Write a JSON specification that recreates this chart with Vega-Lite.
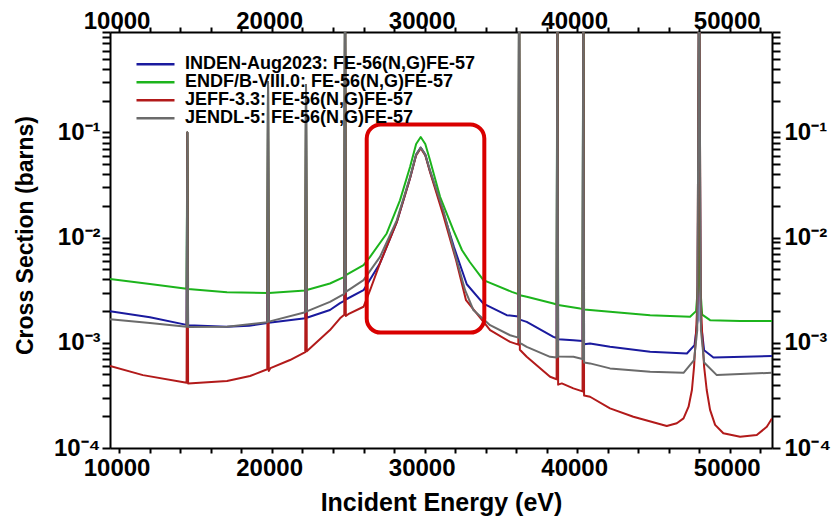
{
  "$schema": "https://vega.github.io/schema/vega-lite/v6.json",
  "width": 662,
  "height": 416,
  "autosize": {"type": "none"},
  "padding": {"left": 110, "top": 32, "right": 59, "bottom": 70},
  "background": "white",
  "config": {
    "view": {"stroke": null},
    "font": "Liberation Sans",
    "axis": {
      "labelFont": "Liberation Sans", "labelFontSize": 24, "labelFontWeight": "bold", "labelColor": "black",
      "titleFont": "Liberation Sans", "titleFontWeight": "bold", "titleColor": "black",
      "domainColor": "black", "domainWidth": 2, "tickColor": "black", "tickWidth": 2,
      "ticks": true, "grid": false, "labelFlush": false, "labelOverlap": false, "labelBound": false
    }
  },
  "datasets": {
    "xs": [
      {"s":"INDEN-Aug2023","E":7380,"v":0.00200},{"s":"INDEN-Aug2023","E":10000,"v":0.00175},{"s":"INDEN-Aug2023","E":12400,"v":0.00148},{"s":"INDEN-Aug2023","E":12450,"v":0.1},{"s":"INDEN-Aug2023","E":12500,"v":0.00147},{"s":"INDEN-Aug2023","E":15050,"v":0.00142},{"s":"INDEN-Aug2023","E":16500,"v":0.00145},{"s":"INDEN-Aug2023","E":17690,"v":0.00154},{"s":"INDEN-Aug2023","E":17740,"v":0.30},{"s":"INDEN-Aug2023","E":17790,"v":0.00155},{"s":"INDEN-Aug2023","E":20180,"v":0.00171},{"s":"INDEN-Aug2023","E":20230,"v":0.28},{"s":"INDEN-Aug2023","E":20280,"v":0.00173},{"s":"INDEN-Aug2023","E":21800,"v":0.00205},{"s":"INDEN-Aug2023","E":22460,"v":0.00238},{"s":"INDEN-Aug2023","E":22740,"v":0.00250},{"s":"INDEN-Aug2023","E":22790,"v":5},{"s":"INDEN-Aug2023","E":22840,"v":0.00258},{"s":"INDEN-Aug2023","E":24000,"v":0.00316},{"s":"INDEN-Aug2023","E":25080,"v":0.00571},{"s":"INDEN-Aug2023","E":26180,"v":0.0140},{"s":"INDEN-Aug2023","E":27050,"v":0.0366},{"s":"INDEN-Aug2023","E":27450,"v":0.0615},{"s":"INDEN-Aug2023","E":27750,"v":0.0718},{"s":"INDEN-Aug2023","E":28050,"v":0.0615},{"s":"INDEN-Aug2023","E":28360,"v":0.0428},{"s":"INDEN-Aug2023","E":29230,"v":0.0174},{"s":"INDEN-Aug2023","E":29930,"v":0.00811},{"s":"INDEN-Aug2023","E":30770,"v":0.00360},{"s":"INDEN-Aug2023","E":31860,"v":0.00236},{"s":"INDEN-Aug2023","E":33390,"v":0.00183},{"s":"INDEN-Aug2023","E":34150,"v":0.00178},{"s":"INDEN-Aug2023","E":34200,"v":5},{"s":"INDEN-Aug2023","E":34250,"v":0.00166},{"s":"INDEN-Aug2023","E":34700,"v":0.00158},{"s":"INDEN-Aug2023","E":36450,"v":0.00114},{"s":"INDEN-Aug2023","E":36660,"v":0.00111},{"s":"INDEN-Aug2023","E":36710,"v":5},{"s":"INDEN-Aug2023","E":36760,"v":0.00108},{"s":"INDEN-Aug2023","E":37760,"v":0.00106},{"s":"INDEN-Aug2023","E":38360,"v":0.00104},{"s":"INDEN-Aug2023","E":38410,"v":5},{"s":"INDEN-Aug2023","E":38460,"v":0.00097},{"s":"INDEN-Aug2023","E":38850,"v":0.000986},{"s":"INDEN-Aug2023","E":40160,"v":0.000916},{"s":"INDEN-Aug2023","E":42790,"v":0.000822},{"s":"INDEN-Aug2023","E":45200,"v":0.000792},{"s":"INDEN-Aug2023","E":45700,"v":0.00095},{"s":"INDEN-Aug2023","E":45900,"v":0.00164},{"s":"INDEN-Aug2023","E":46000,"v":5},{"s":"INDEN-Aug2023","E":46100,"v":0.00164},{"s":"INDEN-Aug2023","E":46330,"v":0.00085},{"s":"INDEN-Aug2023","E":46940,"v":0.000726},{"s":"INDEN-Aug2023","E":50780,"v":0.000748},

      {"s":"ENDF/B-VIII.0","E":7380,"v":0.00403},{"s":"ENDF/B-VIII.0","E":10000,"v":0.00362},{"s":"ENDF/B-VIII.0","E":12400,"v":0.00326},{"s":"ENDF/B-VIII.0","E":12450,"v":0.1},{"s":"ENDF/B-VIII.0","E":12500,"v":0.00325},{"s":"ENDF/B-VIII.0","E":15050,"v":0.00303},{"s":"ENDF/B-VIII.0","E":17690,"v":0.00298},{"s":"ENDF/B-VIII.0","E":17740,"v":0.30},{"s":"ENDF/B-VIII.0","E":17790,"v":0.00298},{"s":"ENDF/B-VIII.0","E":20180,"v":0.00314},{"s":"ENDF/B-VIII.0","E":20230,"v":0.28},{"s":"ENDF/B-VIII.0","E":20280,"v":0.00318},{"s":"ENDF/B-VIII.0","E":21800,"v":0.00366},{"s":"ENDF/B-VIII.0","E":22740,"v":0.00424},{"s":"ENDF/B-VIII.0","E":22790,"v":5},{"s":"ENDF/B-VIII.0","E":22840,"v":0.00440},{"s":"ENDF/B-VIII.0","E":24000,"v":0.00547},{"s":"ENDF/B-VIII.0","E":24430,"v":0.00656},{"s":"ENDF/B-VIII.0","E":25520,"v":0.01094},{"s":"ENDF/B-VIII.0","E":26390,"v":0.0226},{"s":"ENDF/B-VIII.0","E":27050,"v":0.0469},{"s":"ENDF/B-VIII.0","E":27450,"v":0.0775},{"s":"ENDF/B-VIII.0","E":27750,"v":0.0903},{"s":"ENDF/B-VIII.0","E":28050,"v":0.0775},{"s":"ENDF/B-VIII.0","E":28360,"v":0.0543},{"s":"ENDF/B-VIII.0","E":29020,"v":0.0244},{"s":"ENDF/B-VIII.0","E":29890,"v":0.01175},{"s":"ENDF/B-VIII.0","E":30460,"v":0.00758},{"s":"ENDF/B-VIII.0","E":30980,"v":0.00583},{"s":"ENDF/B-VIII.0","E":31860,"v":0.00394},{"s":"ENDF/B-VIII.0","E":33720,"v":0.00305},{"s":"ENDF/B-VIII.0","E":34150,"v":0.00290},{"s":"ENDF/B-VIII.0","E":34200,"v":5},{"s":"ENDF/B-VIII.0","E":34250,"v":0.00283},{"s":"ENDF/B-VIII.0","E":34700,"v":0.00274},{"s":"ENDF/B-VIII.0","E":36450,"v":0.00236},{"s":"ENDF/B-VIII.0","E":36660,"v":0.00231},{"s":"ENDF/B-VIII.0","E":36710,"v":5},{"s":"ENDF/B-VIII.0","E":36760,"v":0.00229},{"s":"ENDF/B-VIII.0","E":38200,"v":0.00212},{"s":"ENDF/B-VIII.0","E":38360,"v":0.00211},{"s":"ENDF/B-VIII.0","E":38410,"v":5},{"s":"ENDF/B-VIII.0","E":38460,"v":0.00207},{"s":"ENDF/B-VIII.0","E":38850,"v":0.00205},{"s":"ENDF/B-VIII.0","E":40160,"v":0.00197},{"s":"ENDF/B-VIII.0","E":42790,"v":0.00183},{"s":"ENDF/B-VIII.0","E":45410,"v":0.00177},{"s":"ENDF/B-VIII.0","E":45800,"v":0.00200},{"s":"ENDF/B-VIII.0","E":45930,"v":0.0035},{"s":"ENDF/B-VIII.0","E":46000,"v":5},{"s":"ENDF/B-VIII.0","E":46070,"v":0.0035},{"s":"ENDF/B-VIII.0","E":46200,"v":0.00185},{"s":"ENDF/B-VIII.0","E":46720,"v":0.00164},{"s":"ENDF/B-VIII.0","E":48690,"v":0.00161},{"s":"ENDF/B-VIII.0","E":50780,"v":0.00161},

      {"s":"JEFF-3.3","E":7380,"v":0.000601},{"s":"JEFF-3.3","E":9540,"v":0.000493},{"s":"JEFF-3.3","E":12400,"v":0.000417},{"s":"JEFF-3.3","E":12450,"v":0.1},{"s":"JEFF-3.3","E":12500,"v":0.000410},{"s":"JEFF-3.3","E":15050,"v":0.000433},{"s":"JEFF-3.3","E":16560,"v":0.000483},{"s":"JEFF-3.3","E":17690,"v":0.000560},{"s":"JEFF-3.3","E":17740,"v":0.30},{"s":"JEFF-3.3","E":17790,"v":0.000540},{"s":"JEFF-3.3","E":17900,"v":0.000575},{"s":"JEFF-3.3","E":19180,"v":0.000686},{"s":"JEFF-3.3","E":20180,"v":0.000815},{"s":"JEFF-3.3","E":20230,"v":0.28},{"s":"JEFF-3.3","E":20280,"v":0.000830},{"s":"JEFF-3.3","E":21800,"v":0.00132},{"s":"JEFF-3.3","E":22460,"v":0.00171},{"s":"JEFF-3.3","E":22740,"v":0.00185},{"s":"JEFF-3.3","E":22790,"v":5},{"s":"JEFF-3.3","E":22840,"v":0.00180},{"s":"JEFF-3.3","E":23000,"v":0.00187},{"s":"JEFF-3.3","E":24000,"v":0.00220},{"s":"JEFF-3.3","E":24430,"v":0.00316},{"s":"JEFF-3.3","E":25080,"v":0.00571},{"s":"JEFF-3.3","E":26180,"v":0.0140},{"s":"JEFF-3.3","E":27050,"v":0.0366},{"s":"JEFF-3.3","E":27450,"v":0.0605},{"s":"JEFF-3.3","E":27750,"v":0.0708},{"s":"JEFF-3.3","E":28050,"v":0.0605},{"s":"JEFF-3.3","E":28360,"v":0.0420},{"s":"JEFF-3.3","E":29230,"v":0.0163},{"s":"JEFF-3.3","E":30070,"v":0.00609},{"s":"JEFF-3.3","E":30720,"v":0.00254},{"s":"JEFF-3.3","E":32300,"v":0.00132},{"s":"JEFF-3.3","E":33610,"v":0.00102},{"s":"JEFF-3.3","E":34150,"v":0.00096},{"s":"JEFF-3.3","E":34200,"v":5},{"s":"JEFF-3.3","E":34250,"v":0.00086},{"s":"JEFF-3.3","E":34700,"v":0.000736},{"s":"JEFF-3.3","E":36230,"v":0.000475},{"s":"JEFF-3.3","E":36660,"v":0.000450},{"s":"JEFF-3.3","E":36710,"v":5},{"s":"JEFF-3.3","E":36760,"v":0.000400},{"s":"JEFF-3.3","E":37000,"v":0.000411},{"s":"JEFF-3.3","E":37760,"v":0.000369},{"s":"JEFF-3.3","E":38360,"v":0.000345},{"s":"JEFF-3.3","E":38410,"v":5},{"s":"JEFF-3.3","E":38460,"v":0.000315},{"s":"JEFF-3.3","E":38850,"v":0.000307},{"s":"JEFF-3.3","E":40160,"v":0.000238},{"s":"JEFF-3.3","E":41690,"v":0.000198},{"s":"JEFF-3.3","E":43880,"v":0.000162},{"s":"JEFF-3.3","E":44540,"v":0.000172},{"s":"JEFF-3.3","E":44980,"v":0.000191},{"s":"JEFF-3.3","E":45310,"v":0.000247},{"s":"JEFF-3.3","E":45530,"v":0.000356},{"s":"JEFF-3.3","E":45670,"v":0.000592},{"s":"JEFF-3.3","E":45800,"v":0.00123},{"s":"JEFF-3.3","E":45890,"v":0.00254},{"s":"JEFF-3.3","E":46000,"v":5},{"s":"JEFF-3.3","E":46110,"v":0.00254},{"s":"JEFF-3.3","E":46200,"v":0.00123},{"s":"JEFF-3.3","E":46330,"v":0.000592},{"s":"JEFF-3.3","E":46500,"v":0.000356},{"s":"JEFF-3.3","E":46720,"v":0.000230},{"s":"JEFF-3.3","E":47050,"v":0.000166},{"s":"JEFF-3.3","E":47590,"v":0.000138},{"s":"JEFF-3.3","E":48690,"v":0.000128},{"s":"JEFF-3.3","E":49780,"v":0.000133},{"s":"JEFF-3.3","E":50440,"v":0.000159},{"s":"JEFF-3.3","E":50780,"v":0.000191},

      {"s":"JENDL-5","E":7380,"v":0.00167},{"s":"JENDL-5","E":10000,"v":0.00154},{"s":"JENDL-5","E":12400,"v":0.00142},{"s":"JENDL-5","E":12450,"v":0.1},{"s":"JENDL-5","E":12500,"v":0.00141},{"s":"JENDL-5","E":15050,"v":0.00142},{"s":"JENDL-5","E":17690,"v":0.00157},{"s":"JENDL-5","E":17740,"v":0.30},{"s":"JENDL-5","E":17790,"v":0.00159},{"s":"JENDL-5","E":20180,"v":0.00195},{"s":"JENDL-5","E":20230,"v":0.28},{"s":"JENDL-5","E":20280,"v":0.00199},{"s":"JENDL-5","E":21800,"v":0.00245},{"s":"JENDL-5","E":22740,"v":0.00292},{"s":"JENDL-5","E":22790,"v":5},{"s":"JENDL-5","E":22840,"v":0.00305},{"s":"JENDL-5","E":24000,"v":0.00394},{"s":"JENDL-5","E":25080,"v":0.00656},{"s":"JENDL-5","E":26180,"v":0.0146},{"s":"JENDL-5","E":27050,"v":0.0377},{"s":"JENDL-5","E":27450,"v":0.0615},{"s":"JENDL-5","E":27750,"v":0.0718},{"s":"JENDL-5","E":28050,"v":0.0615},{"s":"JENDL-5","E":28360,"v":0.0436},{"s":"JENDL-5","E":29230,"v":0.0182},{"s":"JENDL-5","E":29930,"v":0.00758},{"s":"JENDL-5","E":30660,"v":0.00316},{"s":"JENDL-5","E":31200,"v":0.00205},{"s":"JENDL-5","E":32300,"v":0.00147},{"s":"JENDL-5","E":33610,"v":0.00118},{"s":"JENDL-5","E":34150,"v":0.00112},{"s":"JENDL-5","E":34200,"v":5},{"s":"JENDL-5","E":34250,"v":0.00100},{"s":"JENDL-5","E":34700,"v":0.000916},{"s":"JENDL-5","E":36230,"v":0.000736},{"s":"JENDL-5","E":36660,"v":0.000725},{"s":"JENDL-5","E":36710,"v":5},{"s":"JENDL-5","E":36760,"v":0.000740},{"s":"JENDL-5","E":37760,"v":0.000736},{"s":"JENDL-5","E":38360,"v":0.000700},{"s":"JENDL-5","E":38410,"v":5},{"s":"JENDL-5","E":38460,"v":0.000650},{"s":"JENDL-5","E":38850,"v":0.000637},{"s":"JENDL-5","E":40160,"v":0.000571},{"s":"JENDL-5","E":42790,"v":0.000531},{"s":"JENDL-5","E":44980,"v":0.000519},{"s":"JENDL-5","E":45670,"v":0.000686},{"s":"JENDL-5","E":45880,"v":0.00132},{"s":"JENDL-5","E":46000,"v":5},{"s":"JENDL-5","E":46120,"v":0.00132},{"s":"JENDL-5","E":46330,"v":0.00065},{"s":"JENDL-5","E":47160,"v":0.000493},{"s":"JENDL-5","E":50780,"v":0.000519}
    ],
    "box": [{"x1": 24210, "x2": 31920, "y1": 0.00125, "y2": 0.119}]
  },
  "layer": [
    {
      "data": {"name": "xs"},
      "mark": {"type": "line", "clip": true, "strokeWidth": 2, "strokeJoin": "round"},
      "encoding": {
        "x": {
          "field": "E", "type": "quantitative",
          "scale": {"domain": [7380, 50780], "nice": false, "zero": false},
          "axis": {
            "orient": "bottom",
            "values": [8000,10000,12000,14000,16000,18000,20000,22000,24000,26000,28000,30000,32000,34000,36000,38000,40000,42000,44000,46000,48000,50000],
            "format": "d",
            "labelExpr": "datum.value % 10000 === 0 ? datum.label : ''",
            "labelAlign": "right", "labelDx": 3, "labelBaseline": "top", "labelPadding": 3,
            "tickSize": 5,
            "encode": {"ticks": {"update": {"y2": {"signal": "datum.value % 10000 === 0 ? -13 : -5"}}}},
            "title": "Incident Energy (eV)", "titleFontSize": 25, "titleBaseline": "top", "titleY": 42
          }
        },
        "y": {
          "field": "v", "type": "quantitative",
          "scale": {"type": "log", "domain": [0.0001, 0.9], "nice": false},
          "axis": {
            "orient": "left",
            "values": [0.0001,0.0002,0.0003,0.0004,0.0005,0.0006,0.0007,0.0008,0.0009,0.001,0.002,0.003,0.004,0.005,0.006,0.007,0.008,0.009,0.01,0.02,0.03,0.04,0.05,0.06,0.07,0.08,0.09,0.1,0.2,0.3,0.4,0.5,0.6,0.7,0.8,0.9],
            "labelExpr": "datum.value == 0.1 ? '10⁻¹' : datum.value == 0.01 ? '10⁻²' : datum.value == 0.001 ? '10⁻³' : datum.value == 0.0001 ? '10⁻⁴' : ''",
            "labelBaseline": "middle", "labelDy": 2, "labelPadding": 2,
            "tickSize": 8,
            "encode": {"ticks": {"update": {"x2": {"signal": "(datum.value == 0.1 || datum.value == 0.01 || datum.value == 0.001 || datum.value == 0.0001) ? 12 : 8"}}}},
            "title": "Cross Section (barns)", "titleFontSize": 23, "titleAngle": -90, "titleAlign": "center", "titleBaseline": "middle", "titleX": -85, "titleY": 203
          }
        },
        "color": {
          "field": "s", "type": "nominal",
          "scale": {"domain": ["INDEN-Aug2023", "ENDF/B-VIII.0", "JEFF-3.3", "JENDL-5"], "range": ["#1a1a9e", "#1cb41c", "#b21a1a", "#6b6b6b"]},
          "legend": {
            "orient": "none", "legendX": 25, "legendY": 24, "title": null, "padding": 0,
            "symbolType": "stroke", "symbolSize": 1444, "symbolStrokeWidth": 2.5,
            "labelExpr": "datum.label + ': FE-56(N,G)FE-57'",
            "labelFont": "Liberation Sans", "labelFontSize": 18, "labelFontWeight": "bold", "labelColor": "black",
            "labelOffset": 9, "labelLimit": 600, "clipHeight": 16.5, "rowPadding": -4.5
          }
        }
      }
    },
    {
      "data": {"name": "box"},
      "mark": {"type": "rect", "fill": "white", "fillOpacity": 0, "stroke": "#d90000", "strokeWidth": 4, "cornerRadius": 14, "clip": true},
      "encoding": {
        "x": {
          "field": "x1", "type": "quantitative",
          "scale": {"domain": [7380, 50780], "nice": false, "zero": false},
          "axis": {
            "orient": "top", "title": null,
            "values": [8000,10000,12000,14000,16000,18000,20000,22000,24000,26000,28000,30000,32000,34000,36000,38000,40000,42000,44000,46000,48000,50000],
            "format": "d",
            "labelExpr": "datum.value % 10000 === 0 ? datum.label : ''",
            "labelAlign": "right", "labelDx": 3, "labelBaseline": "alphabetic", "labelPadding": -1,
            "tickSize": 5,
            "encode": {"ticks": {"update": {"y2": {"signal": "datum.value % 10000 === 0 ? 13 : 5"}}}}
          }
        },
        "x2": {"field": "x2"},
        "y": {
          "field": "y1", "type": "quantitative",
          "scale": {"type": "log", "domain": [0.0001, 0.9], "nice": false},
          "axis": {
            "orient": "right", "title": null,
            "values": [0.0001,0.0002,0.0003,0.0004,0.0005,0.0006,0.0007,0.0008,0.0009,0.001,0.002,0.003,0.004,0.005,0.006,0.007,0.008,0.009,0.01,0.02,0.03,0.04,0.05,0.06,0.07,0.08,0.09,0.1,0.2,0.3,0.4,0.5,0.6,0.7,0.8,0.9],
            "labelExpr": "datum.value == 0.1 ? '10⁻¹' : datum.value == 0.01 ? '10⁻²' : datum.value == 0.001 ? '10⁻³' : datum.value == 0.0001 ? '10⁻⁴' : ''",
            "labelBaseline": "middle", "labelDy": 2, "labelPadding": 4,
            "tickSize": 8,
            "encode": {"ticks": {"update": {"x2": {"signal": "(datum.value == 0.1 || datum.value == 0.01 || datum.value == 0.001 || datum.value == 0.0001) ? -12 : -8"}}}}
          }
        },
        "y2": {"field": "y2"}
      }
    }
  ],
  "resolve": {"axis": {"x": "independent", "y": "independent"}}
}
